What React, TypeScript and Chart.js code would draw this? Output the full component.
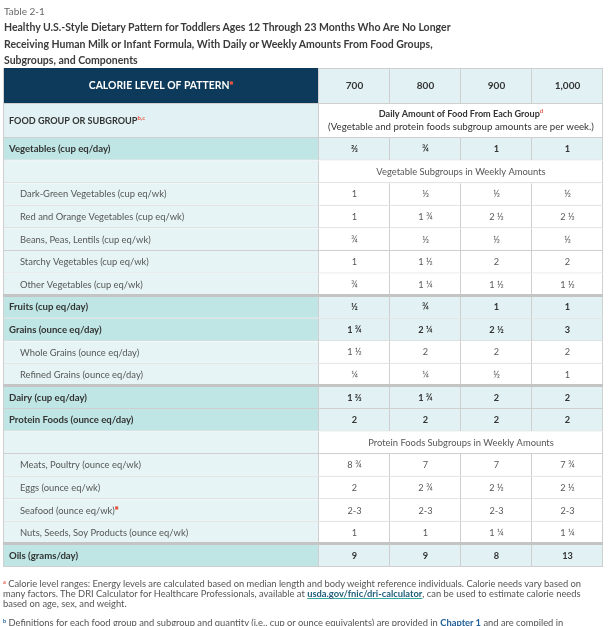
import React, { useEffect, useRef } from "react";
import { Chart, registerables } from "chart.js";

Chart.register(...registerables);

// ---------- data ----------
const TABLE_NUMBER = "Table 2-1";
const TITLE_LINES = [
  "Healthy U.S.-Style Dietary Pattern for Toddlers Ages 12 Through 23 Months Who Are No Longer",
  "Receiving Human Milk or Infant Formula, With Daily or Weekly Amounts From Food Groups,",
  "Subgroups, and Components",
];
const HEADER_LABEL = "CALORIE LEVEL OF PATTERN";
const GROUP_HEADER = "FOOD GROUP OR SUBGROUP";
const GROUP_HEADER_NOTE = "b,c";
const AMOUNT_HEADER = "Daily Amount of Food From Each Group";
const AMOUNT_HEADER_NOTE = "d";
const AMOUNT_SUBHEADER = "(Vegetable and protein foods subgroup amounts are per week.)";

const calorieLevels = ["700", "800", "900", "1,000"];

const rowLabels = [
  "Vegetables (cup eq/day)",
  "",
  "Dark-Green Vegetables (cup eq/wk)",
  "Red and Orange Vegetables (cup eq/wk)",
  "Beans, Peas, Lentils (cup eq/wk)",
  "Starchy Vegetables (cup eq/wk)",
  "Other Vegetables (cup eq/wk)",
  "Fruits (cup eq/day)",
  "Grains (ounce eq/day)",
  "Whole Grains (ounce eq/day)",
  "Refined Grains (ounce eq/day)",
  "Dairy (cup eq/day)",
  "Protein Foods (ounce eq/day)",
  " ",
  "Meats, Poultry (ounce eq/wk)",
  "Eggs (ounce eq/wk)",
  "Seafood (ounce eq/wk)",
  "Nuts, Seeds, Soy Products (ounce eq/wk)",
  "Oils (grams/day)",
];
const rowKinds = [
  "group", "span", "sub", "sub", "sub", "sub", "sub",
  "group", "group", "sub", "sub",
  "group", "group", "span", "sub", "sub", "sub", "sub",
  "group",
];
const rowNotes = ["", "", "", "", "", "", "", "", "", "", "", "", "", "", "", "", "e", "", ""];
const spanTexts = ["", "Vegetable Subgroups in Weekly Amounts", "", "", "", "", "", "", "", "", "", "", "", "Protein Foods Subgroups in Weekly Amounts", "", "", "", "", ""];
// rows that start a new block (thick rule above)
const blockStarts = [7, 11, 18];

const kcal700 = ["⅔", null, "1", "1", "¾", "1", "¾", "½", "1 ¾", "1 ½", "¼", "1 ⅔", "2", null, "8 ¾", "2", "2-3", "1", "9"];
const kcal800 = ["¾", null, "⅓", "1 ¾", "⅓", "1 ½", "1 ¼", "¾", "2 ¼", "2", "¼", "1 ¾", "2", null, "7", "2 ¾", "2-3", "1", "9"];
const kcal900 = ["1", null, "½", "2 ½", "½", "2", "1 ½", "1", "2 ½", "2", "½", "2", "2", null, "7", "2 ½", "2-3", "1 ¼", "8"];
const kcal1000 = ["1", null, "½", "2 ½", "½", "2", "1 ½", "1", "3", "2", "1", "2", "2", null, "7 ¾", "2 ½", "2-3", "1 ¼", "13"];
const valueColumns = [kcal700, kcal800, kcal900, kcal1000];

// ---------- style ----------
const FONT = 'Lato, "Open Sans", "DejaVu Sans", sans-serif';
const NAVY = "#0d3a5b";
const TEAL = "#bfe6e5";
const LIGHT = "#e2f2f4";
const LIGHT_SUB = "#e6f4f5";
const GRID = "#cfcfcf";
const THICK = "#c4c4c4";
const RED = "#e8553f";
const DARK_TEXT = "#333333";
const SUB_TEXT = "#575757";
const LABEL_W = 316 / 71; // label column width in value-column units
const HEADER1_H = 36;
const HEADER2_H = 34;

type Run = { t: string; font: string; color: string; sup?: boolean };

function drawRuns(ctx: CanvasRenderingContext2D, runs: Run[], x: number, y: number, align: "left" | "center") {
  const widths = runs.map((r) => {
    ctx.font = r.font;
    return ctx.measureText(r.t).width;
  });
  const total = widths.reduce((a, b) => a + b, 0);
  let cx = align === "center" ? x - total / 2 : x;
  ctx.textAlign = "left";
  ctx.textBaseline = "middle";
  runs.forEach((r, i) => {
    ctx.font = r.font;
    ctx.fillStyle = r.color;
    ctx.fillText(r.t, cx, r.sup ? y - 3 : y);
    cx += widths[i];
  });
}

const tablePlugin = {
  id: "tableText",
  afterDraw(chart: any) {
    const { ctx, chartArea, scales } = chart;
    const xs = scales.x;
    const ys = scales.y;
    const xL0 = xs.getPixelForValue(0);
    const xL1 = xs.getPixelForValue(LABEL_W);
    const xR = xs.getPixelForValue(LABEL_W + calorieLevels.length);
    const colX = (c: number) => xs.getPixelForValue(LABEL_W + c);
    const top2 = chartArea.top - HEADER2_H;
    const top1 = top2 - HEADER1_H;
    const bottom = chartArea.bottom;
    ctx.save();

    const hline = (x0: number, x1: number, y: number, color = GRID, w = 1) => {
      ctx.fillStyle = color;
      ctx.fillRect(x0, Math.round(y) - w, x1 - x0, w);
    };
    const vline = (x: number, y0: number, y1: number, color = GRID) => {
      ctx.fillStyle = color;
      ctx.fillRect(Math.round(x) - 1, y0, 1, y1 - y0);
    };

    // header row 1
    ctx.fillStyle = NAVY;
    ctx.fillRect(xL0, top1, xL1 - xL0, HEADER1_H);
    for (let c = 0; c < calorieLevels.length; c++) {
      ctx.fillStyle = LIGHT;
      ctx.fillRect(colX(c), top1, colX(c + 1) - colX(c), HEADER1_H);
    }
    // header row 2
    ctx.fillStyle = LIGHT;
    ctx.fillRect(xL0, top2, xL1 - xL0, HEADER2_H);
    ctx.fillStyle = "#ffffff";
    ctx.fillRect(xL1, top2, xR - xL1, HEADER2_H);

    // header borders
    hline(xL1, xR, top1 + 1);
    hline(xL0, xR, top2);
    hline(xL0, xR, chartArea.top);
    for (let c = 0; c <= calorieLevels.length; c++) vline(colX(c), top1, top2);
    vline(xL1, top2, chartArea.top);
    vline(xR, top2, chartArea.top);
    vline(xL0 + 1, top1, bottom);

    // thick block rules
    blockStarts.forEach((r) => {
      const b = (ys.getPixelForValue(r - 1) + ys.getPixelForValue(r)) / 2;
      ctx.fillStyle = THICK;
      ctx.fillRect(xL0, Math.round(b) - 2, xR - xL0, 3);
    });

    // header texts
    drawRuns(
      ctx,
      [
        { t: HEADER_LABEL, font: `bold 10.4px ${FONT}`, color: "#ffffff" },
        { t: "■", font: `bold 4px ${FONT}`, color: RED, sup: true },
      ],
      (xL0 + xL1) / 2,
      top1 + HEADER1_H / 2,
      "center"
    );
    calorieLevels.forEach((lvl, c) => {
      drawRuns(ctx, [{ t: lvl, font: `bold 10px ${FONT}`, color: DARK_TEXT }], (colX(c) + colX(c + 1)) / 2, top1 + HEADER1_H / 2, "center");
    });
    drawRuns(
      ctx,
      [
        { t: GROUP_HEADER, font: `bold 9.1px ${FONT}`, color: DARK_TEXT },
        { t: GROUP_HEADER_NOTE, font: `bold 6px ${FONT}`, color: RED, sup: true },
      ],
      xL0 + 6,
      top2 + HEADER2_H / 2,
      "left"
    );
    drawRuns(
      ctx,
      [
        { t: AMOUNT_HEADER, font: `bold 9.1px ${FONT}`, color: DARK_TEXT },
        { t: AMOUNT_HEADER_NOTE, font: `bold 6px ${FONT}`, color: RED, sup: true },
      ],
      (xL1 + xR) / 2,
      top2 + 10,
      "center"
    );
    drawRuns(ctx, [{ t: AMOUNT_SUBHEADER, font: `9.7px ${FONT}`, color: DARK_TEXT }], (xL1 + xR) / 2, top2 + 23, "center");

    // body texts
    rowLabels.forEach((label, r) => {
      const yc = ys.getPixelForValue(r);
      const kind = rowKinds[r];
      if (kind === "group") {
        drawRuns(ctx, [{ t: label, font: `bold 9.6px ${FONT}`, color: DARK_TEXT }], xL0 + 6, yc, "left");
      } else if (kind === "sub") {
        const runs: Run[] = [{ t: label, font: `9.4px ${FONT}`, color: SUB_TEXT }];
        if (rowNotes[r]) runs.push({ t: "■", font: `4px ${FONT}`, color: RED, sup: true });
        drawRuns(ctx, runs, xL0 + 17, yc, "left");
      }
      if (kind === "span") {
        drawRuns(ctx, [{ t: spanTexts[r], font: `9.4px ${FONT}`, color: SUB_TEXT }], (xL1 + xR) / 2, yc, "center");
      } else {
        valueColumns.forEach((col, c) => {
          const v = col[r];
          if (v == null) return;
          drawRuns(
            ctx,
            [{ t: v, font: kind === "group" ? `bold 9.2px ${FONT}` : `9.2px ${FONT}`, color: kind === "group" ? DARK_TEXT : SUB_TEXT }],
            (colX(c) + colX(c + 1)) / 2,
            yc,
            "center"
          );
        });
      }
    });
    ctx.restore();
  },
};

export default function App() {
  const ref = useRef<HTMLCanvasElement | null>(null);
  useEffect(() => {
    if (!ref.current) return;
    const common = {
      grouped: false,
      barPercentage: 1,
      categoryPercentage: 1,
      borderSkipped: false,
      borderWidth: { top: 0, left: 0, right: 1, bottom: 1 },
      borderColor: GRID,
      inflateAmount: 0,
    };
    const datasets: any[] = [
      {
        label: "Food group",
        data: rowLabels.map(() => [0, LABEL_W]),
        backgroundColor: rowKinds.map((k) => (k === "group" ? TEAL : LIGHT_SUB)),
        ...common,
      },
      ...calorieLevels.map((lvl, c) => ({
        label: lvl,
        data: valueColumns[c].map((_, r) =>
          rowKinds[r] === "span"
            ? c === 0
              ? [LABEL_W, LABEL_W + calorieLevels.length]
              : null
            : [LABEL_W + c, LABEL_W + c + 1]
        ),
        backgroundColor: rowKinds.map((k) => (k === "group" ? LIGHT : "#ffffff")),
        ...common,
      })),
    ];
    const chart = new Chart(ref.current, {
      type: "bar",
      data: { labels: rowLabels, datasets },
      options: {
        indexAxis: "y",
        responsive: false,
        animation: false,
        events: [],
        layout: { padding: { left: 3, right: 11, top: 138, bottom: 59 } },
        scales: {
          x: { type: "linear", min: 0, max: LABEL_W + calorieLevels.length, display: false },
          y: { type: "category", display: false, offset: true },
        },
        plugins: { legend: { display: false }, tooltip: { enabled: false } },
      } as any,
      plugins: [tablePlugin],
    });
    return () => chart.destroy();
  }, []);

  return (
    <div style={{ position: "relative", width: 614, height: 626, overflow: "hidden", background: "#fff" }}>
      <style>{`body{margin:0;background:#fff}`}</style>
      <canvas ref={ref} width={614} height={626} style={{ position: "absolute", left: 0, top: 0 }} />
      <div style={{ position: "absolute", left: 4, top: 5, font: `10px ${FONT}`, lineHeight: "12px", color: "#666" }}>{TABLE_NUMBER}</div>
      <div style={{ position: "absolute", left: 4, top: 19, font: `bold 10.5px ${FONT}`, lineHeight: "16.5px", color: "#3b3b3b", whiteSpace: "nowrap" }}>
        {TITLE_LINES.map((l, i) => (
          <div key={i}>{l}</div>
        ))}
      </div>
      <div style={{ position: "absolute", left: 3, top: 577, font: `9.35px ${FONT}`, lineHeight: "10px", color: "#555", whiteSpace: "nowrap" }}>
        <div>
          <span style={{ color: RED, fontSize: "5.5px", fontWeight: "bold", verticalAlign: "3px" }}>a</span> Calorie level ranges: Energy levels are calculated based on median length and body weight reference individuals. Calorie needs vary based on
        </div>
        <div>
          many factors. The DRI Calculator for Healthcare Professionals, available at{" "}
          <span style={{ fontWeight: "bold", color: "#1f5f7a", textDecoration: "underline", textDecorationColor: "#3aa7a3" }}>usda.gov/fnic/dri-calculator</span>, can be used to estimate calorie needs
        </div>
        <div>based on age, sex, and weight.</div>
        <div style={{ marginTop: 7 }}>
          <span style={{ color: "#1f5f9a", fontSize: "5.5px", fontWeight: "bold", verticalAlign: "3px" }}>b</span> Definitions for each food group and subgroup and quantity (i.e., cup or ounce equivalents) are provided in{" "}
          <span style={{ fontWeight: "bold", color: "#1f5f9a" }}>Chapter 1</span> and are compiled in
        </div>
      </div>
    </div>
  );
}
